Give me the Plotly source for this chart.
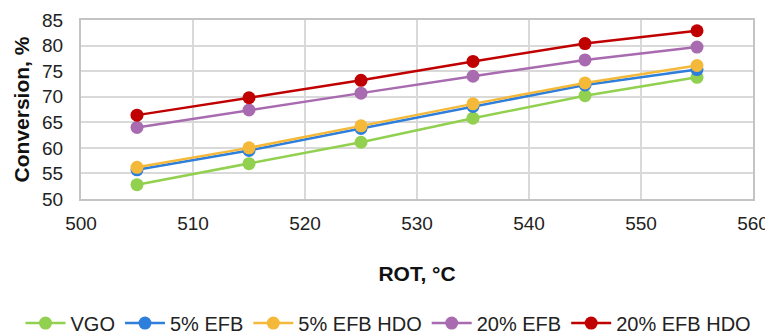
import plotly.graph_objects as go

rot = [505, 515, 525, 535, 545, 555]
vgo = [52.8, 56.9, 61.1, 65.8, 70.2, 73.8]
efb5 = [55.7, 59.5, 63.8, 68.1, 72.3, 75.3]
efb5_hdo = [56.2, 60.0, 64.3, 68.6, 72.7, 76.1]
efb20 = [64.0, 67.4, 70.7, 74.0, 77.2, 79.7]
efb20_hdo = [66.4, 69.8, 73.2, 76.9, 80.4, 82.9]

series = [
    ("VGO", vgo, "#92d050"),
    ("5% EFB", efb5, "#2e7fdc"),
    ("5% EFB HDO", efb5_hdo, "#f5b93a"),
    ("20% EFB", efb20, "#a96bb0"),
    ("20% EFB HDO", efb20_hdo, "#c00000"),
]

fig = go.Figure()
for name, vals, col in series:
    fig.add_trace(go.Scatter(
        x=rot, y=vals, name=name, mode="lines+markers",
        line=dict(color=col, width=2.5),
        marker=dict(color=col, size=13),
    ))

# the page body adds an 8px offset, so the figure is sized to the visible area
font = "Liberation Sans, Arial, sans-serif"
fig.update_layout(
    width=765, height=328,
    margin=dict(l=73, r=20, t=12, b=137, autoexpand=False),
    paper_bgcolor="white", plot_bgcolor="white",
    font=dict(family=font, size=19, color="#222222"),
    showlegend=True,
    legend=dict(orientation="h", x=-0.09, xanchor="left", y=-0.693, yanchor="middle",
                font=dict(size=20), itemwidth=40, tracegroupgap=0),
    xaxis=dict(
        range=[500, 560], dtick=10, tick0=500, automargin=False,
        showgrid=True, gridcolor="#d9d9d9", gridwidth=2,
        showline=True, linecolor="#c4c4c4", linewidth=2, mirror=True,
        zeroline=False, ticks="", ticklen=0, ticklabelstandoff=6,
        tickfont=dict(size=19),
        title=dict(text="<b>ROT, °C</b>", font=dict(size=21, color="#111111"), standoff=34),
    ),
    yaxis=dict(
        range=[50, 85], dtick=5, tick0=50, automargin=False,
        showgrid=True, gridcolor="#d9d9d9", gridwidth=2,
        showline=True, linecolor="#c4c4c4", linewidth=2, mirror=True,
        zeroline=False, ticks="", ticklabelstandoff=12,
        tickfont=dict(size=19),
        title=dict(text="<b>Conversion, %</b>", font=dict(size=21, color="#111111"), standoff=7),
    ),
)

fig.write_html("out.html")
